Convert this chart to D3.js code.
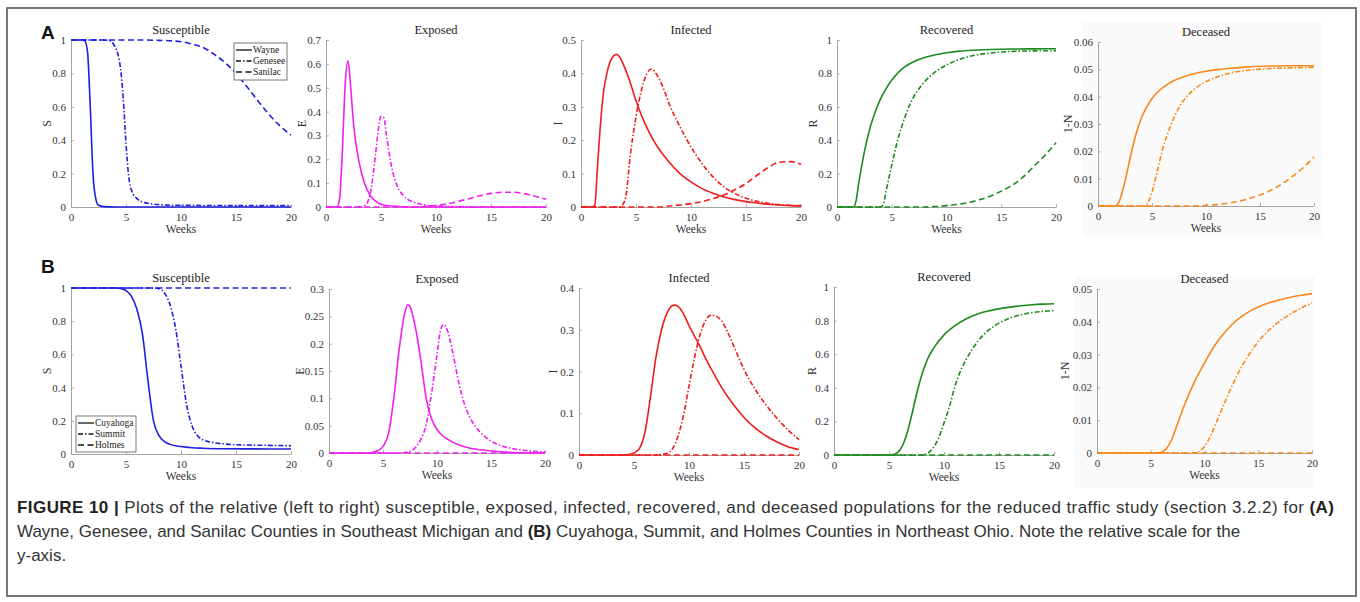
<!DOCTYPE html>
<html><head><meta charset="utf-8">
<script src="https://cdn.jsdelivr.net/npm/d3@7"></script>
<style>
html,body{margin:0;padding:0;background:#fff;}
svg{display:block;}
.serif{font-family:"Liberation Serif","DejaVu Serif",serif;}
</style></head>
<body>
<svg id="chart" width="1360" height="602"></svg>
<script>
// ---------- DATA ----------
const compartments = ["Susceptible","Exposed","Infected","Recovered","Deceased"];
const yLabels = ["S","E","I","R","1-N"];
const countiesA = ["Wayne","Genesee","Sanilac"];
const countiesB = ["Cuyahoga","Summit","Holmes"];
const weekTicks = [0,5,10,15,20];
const yTicksA = [
  [0,0.2,0.4,0.6,0.8,1],
  [0,0.1,0.2,0.3,0.4,0.5,0.6,0.7],
  [0,0.1,0.2,0.3,0.4,0.5],
  [0,0.2,0.4,0.6,0.8,1],
  [0,0.01,0.02,0.03,0.04,0.05,0.06]
];
const yTicksB = [
  [0,0.2,0.4,0.6,0.8,1],
  [0,0.05,0.1,0.15,0.2,0.25,0.3],
  [0,0.1,0.2,0.3,0.4],
  [0,0.2,0.4,0.6,0.8,1],
  [0,0.01,0.02,0.03,0.04,0.05]
];
const colors = ["#1f1fe0","#f020f0","#f01c1c","#1e8a1e","#f7881e"];

// Row A: Wayne (solid), Genesee (dash-dot), Sanilac (dashed) -- [week, value]
const A_S_wayne   = [[0,1],[1,1],[1.25,0.995],[1.5,0.93],[1.75,0.6],[2,0.2],[2.25,0.05],[2.5,0.01],[3,0.002],[4,0],[20,0]];
const A_S_genesee = [[0,1],[3,1],[3.5,0.995],[4,0.96],[4.5,0.83],[4.75,0.65],[5,0.38],[5.25,0.18],[5.5,0.1],[6,0.05],[6.5,0.03],[7,0.022],[7.5,0.017],[8,0.014],[9,0.011],[10,0.01],[14,0.009],[20,0.008]];
const A_S_sanilac = [[0,1],[6,1],[8,0.998],[10,0.99],[11,0.975],[12,0.955],[13,0.915],[14,0.865],[15,0.8],[16,0.72],[17,0.635],[18,0.555],[19,0.485],[20,0.43]];

const A_E_wayne   = [[0,0],[1,0],[1.25,0.04],[1.5,0.25],[1.75,0.52],[2,0.613],[2.25,0.5],[2.5,0.35],[3,0.19],[3.5,0.1],[4,0.05],[4.5,0.025],[5,0.012],[6,0.004],[7,0.001],[8,0],[20,0]];
const A_E_genesee = [[0,0],[3,0],[3.5,0.005],[4,0.05],[4.5,0.22],[4.75,0.32],[5,0.38],[5.25,0.375],[5.5,0.3],[6,0.16],[6.5,0.085],[7,0.05],[7.5,0.03],[8,0.02],[9,0.008],[10,0.004],[11,0.002],[12,0.001],[13,0],[20,0]];
const A_E_sanilac = [[0,0],[8,0],[9,0.002],[10,0.006],[11,0.013],[12,0.023],[13,0.035],[14,0.047],[15,0.057],[16,0.062],[17,0.062],[18,0.056],[19,0.045],[20,0.033]];

const A_I_wayne   = [[0,0],[1,0],[1.25,0.005],[1.5,0.12],[1.75,0.24],[2,0.33],[2.5,0.42],[3,0.453],[3.25,0.457],[3.5,0.45],[4,0.415],[4.5,0.37],[5,0.318],[5.5,0.274],[6,0.237],[6.5,0.205],[7,0.178],[8,0.135],[9,0.1],[10,0.075],[11,0.055],[12,0.041],[13,0.03],[14,0.022],[15,0.016],[16,0.012],[17,0.008],[18,0.006],[19,0.004],[20,0.003]];
const A_I_genesee = [[0,0],[3.5,0],[4,0.02],[4.5,0.16],[5,0.27],[5.5,0.35],[6,0.4],[6.4,0.413],[7,0.39],[7.5,0.355],[8,0.31],[9,0.24],[10,0.18],[11,0.13],[12,0.09],[13,0.06],[14,0.04],[15,0.026],[16,0.017],[17,0.011],[18,0.007],[19,0.005],[20,0.004]];
const A_I_sanilac = [[0,0],[7,0],[8,0.003],[9,0.006],[10,0.01],[11,0.016],[12,0.025],[13,0.036],[14,0.052],[15,0.07],[16,0.095],[17,0.118],[18,0.134],[19,0.136],[20,0.128]];

const A_R_wayne   = [[0,0],[1.5,0],[1.75,0.04],[2,0.15],[2.5,0.33],[3,0.47],[3.5,0.57],[4,0.65],[4.5,0.71],[5,0.76],[6,0.83],[7,0.87],[8,0.895],[9,0.912],[10,0.924],[11,0.932],[12,0.937],[14,0.943],[16,0.946],[18,0.947],[20,0.948]];
const A_R_genesee = [[0,0],[4,0],[4.25,0.02],[4.5,0.1],[5,0.25],[5.5,0.39],[6,0.5],[6.5,0.59],[7,0.66],[7.5,0.71],[8,0.75],[9,0.81],[10,0.85],[11,0.88],[12,0.9],[13,0.913],[14,0.922],[15,0.928],[16,0.932],[18,0.935],[20,0.936]];
const A_R_sanilac = [[0,0],[8,0],[9,0.003],[10,0.008],[11,0.015],[12,0.027],[13,0.043],[14,0.065],[15,0.095],[16,0.13],[17,0.18],[18,0.245],[19,0.31],[20,0.385]];

const A_D_wayne   = [[0,0],[1.5,0],[1.75,0.0003],[2,0.002],[2.5,0.009],[3,0.018],[3.5,0.026],[4,0.032],[4.5,0.0362],[5,0.0393],[5.5,0.0416],[6,0.0433],[7,0.0458],[8,0.0474],[9,0.0485],[10,0.0493],[11,0.0499],[12,0.0503],[14,0.0509],[16,0.0512],[18,0.0513],[20,0.0513]];
const A_D_genesee = [[0,0],[4.25,0],[4.5,0.0005],[5,0.005],[5.5,0.013],[6,0.021],[6.5,0.027],[7,0.032],[7.5,0.036],[8,0.039],[9,0.043],[10,0.0455],[11,0.0472],[12,0.0484],[13,0.0492],[14,0.0497],[16,0.0503],[18,0.0506],[20,0.0507]];
const A_D_sanilac = [[0,0],[9,0],[10,0.0002],[11,0.0005],[12,0.001],[13,0.0017],[14,0.0027],[15,0.004],[16,0.0058],[17,0.008],[18,0.0108],[19,0.014],[20,0.018]];

// Row B: Cuyahoga (solid), Summit (dash-dot), Holmes (dashed)
const B_S_cuyahoga = [[0,1],[4,1],[4.5,0.998],[5,0.985],[5.5,0.95],[6,0.87],[6.5,0.72],[7,0.44],[7.5,0.2],[8,0.11],[8.5,0.075],[9,0.058],[10,0.045],[11,0.038],[12,0.035],[14,0.032],[16,0.031],[20,0.03]];
const B_S_summit   = [[0,1],[7.5,1],[8,0.995],[8.5,0.97],[9,0.9],[9.5,0.76],[10,0.53],[10.5,0.3],[11,0.17],[11.5,0.11],[12,0.085],[13,0.068],[14,0.06],[15,0.056],[16,0.054],[18,0.052],[20,0.05]];
const B_S_holmes   = [[0,1],[20,1]];

const B_E_cuyahoga = [[0,0],[3.5,0],[4,0.001],[4.5,0.004],[5,0.012],[5.5,0.035],[6,0.1],[6.5,0.19],[7,0.255],[7.3,0.271],[7.5,0.268],[8,0.23],[8.5,0.17],[9,0.1],[9.5,0.062],[10,0.043],[10.5,0.032],[11,0.025],[12,0.015],[13,0.009],[14,0.006],[15,0.004],[16,0.002],[17,0.001],[20,0]];
const B_E_summit   = [[0,0],[6.5,0],[7,0.001],[7.5,0.003],[8,0.01],[8.5,0.025],[9,0.052],[9.5,0.11],[10,0.18],[10.3,0.222],[10.6,0.235],[11,0.222],[11.5,0.18],[12,0.13],[12.5,0.092],[13,0.067],[14,0.038],[15,0.022],[16,0.013],[17,0.008],[18,0.005],[19,0.003],[20,0.002]];
const B_E_holmes   = [[0,0],[20,0]];

const B_I_cuyahoga = [[0,0],[4,0],[4.5,0.001],[5,0.005],[5.5,0.016],[6,0.055],[6.5,0.14],[7,0.235],[7.5,0.3],[8,0.34],[8.65,0.359],[9,0.356],[9.5,0.338],[10,0.31],[10.5,0.285],[11,0.26],[11.5,0.232],[12,0.207],[13,0.16],[14,0.122],[15,0.09],[16,0.065],[17,0.046],[18,0.031],[19,0.02],[20,0.013]];
const B_I_summit   = [[0,0],[7,0],[7.5,0.001],[8,0.004],[8.5,0.015],[9,0.045],[9.5,0.095],[10,0.165],[10.5,0.232],[11,0.288],[11.5,0.322],[12,0.335],[12.5,0.332],[13,0.32],[13.5,0.295],[14,0.265],[14.5,0.234],[15,0.205],[16,0.158],[17,0.12],[18,0.088],[19,0.06],[20,0.037]];
const B_I_holmes   = [[0,0],[20,0]];

const B_R_cuyahoga = [[0,0],[5,0],[5.5,0.005],[6,0.03],[6.5,0.1],[7,0.22],[7.5,0.36],[8,0.48],[8.5,0.57],[9,0.63],[10,0.715],[11,0.77],[12,0.81],[13,0.838],[14,0.857],[15,0.87],[16,0.88],[17,0.888],[18,0.894],[19,0.898],[20,0.9]];
const B_R_summit   = [[0,0],[8,0],[8.5,0.01],[9,0.04],[9.5,0.1],[10,0.19],[10.5,0.29],[11,0.41],[11.5,0.5],[12,0.567],[13,0.67],[14,0.74],[15,0.785],[16,0.815],[17,0.835],[18,0.848],[19,0.855],[20,0.86]];
const B_R_holmes   = [[0,0],[20,0]];

const B_D_cuyahoga = [[0,0],[5.5,0],[6,0.0003],[6.5,0.0015],[7,0.0045],[7.5,0.009],[8,0.0135],[8.5,0.0175],[9,0.0212],[9.5,0.0245],[10,0.0275],[11,0.033],[12,0.0372],[13,0.0405],[14,0.0428],[15,0.0445],[16,0.0458],[17,0.0467],[18,0.0475],[19,0.0481],[20,0.0486]];
const B_D_summit   = [[0,0],[9,0],[9.5,0.0005],[10,0.002],[10.5,0.0048],[11,0.0085],[11.5,0.0125],[12,0.0163],[12.5,0.02],[13,0.0235],[14,0.0293],[15,0.034],[16,0.0375],[17,0.0402],[18,0.0424],[19,0.0442],[20,0.0457]];
const B_D_holmes   = [[0,0],[20,0]];

const seriesA = [
  [A_S_wayne,A_S_genesee,A_S_sanilac],
  [A_E_wayne,A_E_genesee,A_E_sanilac],
  [A_I_wayne,A_I_genesee,A_I_sanilac],
  [A_R_wayne,A_R_genesee,A_R_sanilac],
  [A_D_wayne,A_D_genesee,A_D_sanilac]
];
const seriesB = [
  [B_S_cuyahoga,B_S_summit,B_S_holmes],
  [B_E_cuyahoga,B_E_summit,B_E_holmes],
  [B_I_cuyahoga,B_I_summit,B_I_holmes],
  [B_R_cuyahoga,B_R_summit,B_R_holmes],
  [B_D_cuyahoga,B_D_summit,B_D_holmes]
];
const captionLines = [
  [["FIGURE 10 | ",true],["Plots of the relative (left to right) susceptible, exposed, infected, recovered, and deceased populations for the reduced traffic study (section 3.2.2) for ",false],["(A)",true]],
  [["Wayne, Genesee, and Sanilac Counties in Southeast Michigan and ",false],["(B)",true],[" Cuyahoga, Summit, and Holmes Counties in Northeast Ohio. Note the relative scale for the",false]],
  [["y-axis.",false]]
];

// ---------- LAYOUT ----------
const layoutA = [
  {x0:71,x1:291,y0:40,y1:207,lab:24},
  {x0:326,x1:546,y0:40,y1:207,lab:24},
  {x0:581,x1:801,y0:40,y1:207,lab:23},
  {x0:837,x1:1056,y0:40,y1:207,lab:24},
  {x0:1098,x1:1314,y0:42,y1:206,lab:30}
];
const layoutB = [
  {x0:71,x1:291,y0:288,y1:454,lab:24},
  {x0:329,x1:545,y0:289,y1:453,lab:29},
  {x0:579,x1:799,y0:288,y1:455,lab:26},
  {x0:834,x1:1054,y0:287,y1:455,lab:22},
  {x0:1097,x1:1312,y0:289,y1:453,lab:32}
];
const dashes = [null,"5,2,1.5,2","6,3.5"];
const captionWidths = [1317, null, null];

const svg = d3.select("#chart");

// faint background patches (scan artefacts)
svg.append("rect").attr("x",1082).attr("y",22).attr("width",240).attr("height",215).attr("fill","#fafafa");
svg.append("rect").attr("x",1075).attr("y",276).attr("width",240).attr("height",212).attr("fill","#fafafa");

// outer frame
svg.append("rect").attr("x",7).attr("y",8).attr("width",1349).attr("height",588)
  .attr("fill","none").attr("stroke","#555").attr("stroke-width",1.6);

const fmt = d => d===0 ? "0" : String(+d.toFixed(3));

function drawPanel(L, j, data, yTicks){
  const g = svg.append("g");
  const x = d3.scaleLinear().domain([0,20]).range([L.x0,L.x1]);
  const ymax = yTicks[yTicks.length-1];
  const y = d3.scaleLinear().domain([0,ymax]).range([L.y1,L.y0]);

  const ax = g.append("g").attr("transform",`translate(0,${L.y1})`)
    .call(d3.axisBottom(x).tickValues(weekTicks).tickFormat(d3.format("d")).tickSizeInner(-3).tickSizeOuter(0).tickPadding(6));
  const ay = g.append("g").attr("transform",`translate(${L.x0},0)`)
    .call(d3.axisLeft(y).tickValues(yTicks).tickFormat(fmt).tickSizeInner(-3).tickSizeOuter(0).tickPadding(5));
  [ax,ay].forEach(a=>{
    a.select(".domain").attr("stroke","#9a9a9a").attr("stroke-width",0.9);
    a.selectAll(".tick line").attr("stroke","#9a9a9a").attr("stroke-width",0.8);
    a.selectAll(".tick text").attr("class","serif").attr("font-size",11).attr("fill","#333");
  });

  g.append("text").attr("class","serif").attr("x",(L.x0+L.x1)/2).attr("y",L.y0-6)
    .attr("text-anchor","middle").attr("font-size",12.5).attr("fill","#222").text(compartments[j]);
  g.append("text").attr("class","serif").attr("x",(L.x0+L.x1)/2).attr("y",L.y1+26)
    .attr("text-anchor","middle").attr("font-size",11.5).attr("fill","#333").text("Weeks");
  g.append("text").attr("class","serif")
    .attr("transform",`translate(${L.x0-L.lab},${(L.y0+L.y1)/2}) rotate(-90)`)
    .attr("text-anchor","middle").attr("dy","0.35em").attr("font-size",12).attr("fill","#333").text(yLabels[j]);

  const line = d3.line().x(d=>x(d[0])).y(d=>y(d[1])).curve(d3.curveMonotoneX);
  [2,1,0].forEach(k=>{
    g.append("path").datum(data[k]).attr("d",line).attr("fill","none")
      .attr("stroke",colors[j]).attr("stroke-width",1.6)
      .attr("stroke-dasharray",dashes[k]);
  });
}

layoutA.forEach((L,j)=>drawPanel(L,j,seriesA[j],yTicksA[j]));
layoutB.forEach((L,j)=>drawPanel(L,j,seriesB[j],yTicksB[j]));

function legend(bx,by,bw,bh,names){
  const g = svg.append("g");
  g.append("rect").attr("x",bx).attr("y",by).attr("width",bw).attr("height",bh)
    .attr("fill","#fff").attr("stroke","#555").attr("stroke-width",0.8);
  names.forEach((n,i)=>{
    const yy = by+7+i*11;
    g.append("line").attr("x1",bx+2).attr("x2",bx+18).attr("y1",yy).attr("y2",yy)
      .attr("stroke","#111").attr("stroke-width",1.3).attr("stroke-dasharray",dashes[i]);
    g.append("text").attr("class","serif").attr("x",bx+19).attr("y",yy+3.3)
      .attr("font-size",9.5).attr("fill","#222").text(n);
  });
}
legend(234,43,53,37,countiesA);
legend(76,416,60,36,countiesB);

// panel letters
svg.append("text").attr("x",41).attr("y",39).attr("font-family","Liberation Sans, Arial, sans-serif")
  .attr("font-weight","bold").attr("font-size",19).attr("fill","#111").text("A");
svg.append("text").attr("x",41).attr("y",273).attr("font-family","Liberation Sans, Arial, sans-serif")
  .attr("font-weight","bold").attr("font-size",19).attr("fill","#111").text("B");

// caption
const cap = svg.append("g").attr("font-family","Liberation Sans, Arial, sans-serif").attr("font-size",17).attr("fill","#333");
captionLines.forEach((parts,i)=>{
  const t = cap.append("text").attr("x",17).attr("y",513+i*24);
  if (captionWidths[i]) t.attr("textLength",captionWidths[i]).attr("lengthAdjust","spacing");
  parts.forEach(p=>{
    t.append("tspan").attr("font-weight",p[1]?"bold":"normal").attr("fill",p[1]?"#222":"#333").text(p[0]);
  });
});
</script>
</body></html>
